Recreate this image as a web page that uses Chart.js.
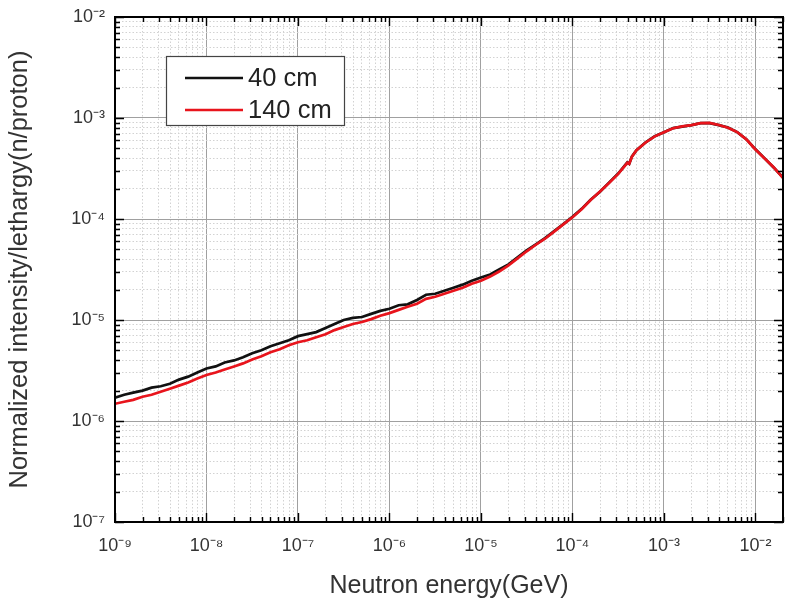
<!DOCTYPE html>
<html>
<head>
<meta charset="utf-8">
<script src="https://cdn.jsdelivr.net/npm/chart.js@4.4.1/dist/chart.umd.min.js"></script>
<style>
  html, body { margin: 0; padding: 0; background: #ffffff; }
  #wrap { width: 788px; height: 606px; }
</style>
</head>
<body>
<div id="wrap"><canvas id="c" width="788" height="606"></canvas></div>
<script>
// ---- data ----
const seriesLabels = ['40 cm', '140 cm'];
const xTitle = 'Neutron energy(GeV)';
const yTitle = 'Normalized intensity/lethargy(n/proton)';

const xEnergy = [
  1.00e-9, 1.26e-9, 1.58e-9, 2.00e-9, 2.51e-9, 3.16e-9, 3.98e-9, 5.01e-9, 6.31e-9, 7.94e-9,
  1.00e-8, 1.26e-8, 1.58e-8, 2.00e-8, 2.51e-8, 3.16e-8, 3.98e-8, 5.01e-8, 6.31e-8, 7.94e-8,
  1.00e-7, 1.26e-7, 1.58e-7, 2.00e-7, 2.51e-7, 3.16e-7, 3.98e-7, 5.01e-7, 6.31e-7, 7.94e-7,
  1.00e-6, 1.26e-6, 1.58e-6, 2.00e-6, 2.51e-6, 3.16e-6, 3.98e-6, 5.01e-6, 6.31e-6, 7.94e-6,
  1.00e-5, 1.26e-5, 1.58e-5, 2.00e-5, 2.51e-5, 3.16e-5, 3.98e-5, 5.01e-5, 6.31e-5, 7.94e-5,
  1.00e-4, 1.26e-4, 1.58e-4, 2.00e-4, 2.51e-4, 3.16e-4, 3.98e-4, 4.17e-4, 4.47e-4, 5.01e-4, 6.31e-4, 7.94e-4,
  1.00e-3, 1.26e-3, 1.58e-3, 2.00e-3, 2.51e-3, 3.16e-3, 3.98e-3, 5.01e-3, 6.31e-3, 7.94e-3,
  1.00e-2, 1.26e-2, 1.58e-2, 2.00e-2
];

const flux40cm = [
  1.70e-6, 1.82e-6, 1.91e-6, 2.00e-6, 2.14e-6, 2.21e-6, 2.34e-6, 2.57e-6, 2.75e-6, 3.02e-6,
  3.31e-6, 3.47e-6, 3.80e-6, 3.98e-6, 4.27e-6, 4.68e-6, 5.01e-6, 5.50e-6, 5.89e-6, 6.31e-6,
  6.92e-6, 7.24e-6, 7.59e-6, 8.32e-6, 9.12e-6, 1.00e-5, 1.05e-5, 1.07e-5, 1.15e-5, 1.23e-5,
  1.29e-5, 1.40e-5, 1.43e-5, 1.58e-5, 1.78e-5, 1.82e-5, 1.95e-5, 2.09e-5, 2.24e-5, 2.45e-5,
  2.63e-5, 2.82e-5, 3.16e-5, 3.55e-5, 4.17e-5, 4.90e-5, 5.62e-5, 6.46e-5, 7.59e-5, 8.91e-5,
  1.05e-4, 1.26e-4, 1.55e-4, 1.86e-4, 2.29e-4, 2.82e-4, 3.63e-4, 3.52e-4, 4.17e-4, 4.79e-4, 5.75e-4, 6.61e-4,
  7.24e-4, 7.94e-4, 8.22e-4, 8.51e-4, 8.91e-4, 8.91e-4, 8.51e-4, 8.04e-4, 7.24e-4, 6.17e-4,
  4.90e-4, 3.98e-4, 3.24e-4, 2.57e-4
];

const flux140cm = [
  1.48e-6, 1.55e-6, 1.62e-6, 1.74e-6, 1.82e-6, 1.95e-6, 2.09e-6, 2.24e-6, 2.40e-6, 2.63e-6,
  2.85e-6, 3.02e-6, 3.24e-6, 3.47e-6, 3.72e-6, 4.07e-6, 4.37e-6, 4.79e-6, 5.13e-6, 5.62e-6,
  6.03e-6, 6.31e-6, 6.76e-6, 7.24e-6, 7.94e-6, 8.51e-6, 9.12e-6, 9.55e-6, 1.02e-5, 1.10e-5,
  1.17e-5, 1.26e-5, 1.35e-5, 1.45e-5, 1.62e-5, 1.70e-5, 1.82e-5, 1.95e-5, 2.09e-5, 2.29e-5,
  2.45e-5, 2.69e-5, 3.02e-5, 3.47e-5, 4.07e-5, 4.79e-5, 5.56e-5, 6.38e-5, 7.50e-5, 8.85e-5,
  1.04e-4, 1.25e-4, 1.54e-4, 1.87e-4, 2.27e-4, 2.80e-4, 3.60e-4, 3.52e-4, 4.15e-4, 4.80e-4, 5.72e-4, 6.58e-4,
  7.22e-4, 7.92e-4, 8.25e-4, 8.49e-4, 8.88e-4, 8.93e-4, 8.53e-4, 8.01e-4, 7.26e-4, 6.15e-4,
  4.88e-4, 3.97e-4, 3.25e-4, 2.55e-4
];

const xTickValues = [1e-9, 1e-8, 1e-7, 1e-6, 1e-5, 1e-4, 1e-3, 1e-2];
const xTickLabels = ['10\u207B\u2079', '10\u207B\u2078', '10\u207B\u2077', '10\u207B\u2076', '10\u207B\u2075', '10\u207B\u2074', '10\u207B\u00B3', '10\u207B\u00B2'];
const yTickValues = [1e-7, 1e-6, 1e-5, 1e-4, 1e-3, 1e-2];
const yTickLabels = ['10\u207B\u2077', '10\u207B\u2076', '10\u207B\u2075', '10\u207B\u2074', '10\u207B\u00B3', '10\u207B\u00B2'];

const xRange = [1e-9, 2e-2];
const yRange = [1e-7, 1e-2];

// ---- helpers ----
const FONT = "'Liberation Sans', Arial, Helvetica, sans-serif";
function isDecade(v) {
  const l = Math.log10(v);
  return Math.abs(l - Math.round(l)) < 1e-6;
}
function buildLogTicks(decades, min, max) {
  const out = [];
  decades.forEach(d => {
    for (let m = 1; m <= 9; m++) {
      const v = m * d;
      if (v >= min * (1 - 1e-9) && v <= max * (1 + 1e-9)) out.push({ value: v, major: m === 1 });
    }
  });
  return out;
}
function labelFor(values, labels) {
  return function (v) {
    const i = values.findIndex(t => Math.abs(Math.log10(t) - Math.log10(v)) < 1e-6);
    return i >= 0 ? labels[i] : '';
  };
}

// frame + inward ticks
const frameTicks = {
  id: 'frameTicks',
  afterDatasetsDraw(chart) {
    const { ctx, chartArea: a, scales: { x, y } } = chart;
    ctx.save();
    ctx.strokeStyle = '#000';
    ctx.lineWidth = 1.4;
    ctx.beginPath();
    x.ticks.forEach(t => {
      const px = Math.round(x.getPixelForValue(t.value)) + 0.5;
      const len = isDecade(t.value) ? 9 : 5;
      ctx.moveTo(px, a.bottom); ctx.lineTo(px, a.bottom - len);
      ctx.moveTo(px, a.top); ctx.lineTo(px, a.top + len);
    });
    y.ticks.forEach(t => {
      const py = Math.round(y.getPixelForValue(t.value)) + 0.5;
      const len = isDecade(t.value) ? 9 : 5;
      ctx.moveTo(a.left, py); ctx.lineTo(a.left + len, py);
      ctx.moveTo(a.right, py); ctx.lineTo(a.right - len, py);
    });
    ctx.stroke();
    ctx.lineWidth = 2;
    ctx.strokeRect(a.left, a.top, a.right - a.left, a.bottom - a.top);
    ctx.restore();
  }
};

// boxed legend inside the plot
const boxLegend = {
  id: 'boxLegend',
  afterDraw(chart) {
    const { ctx } = chart;
    const bx = 166, by = 56, bw = 178, bh = 69;
    ctx.save();
    ctx.fillStyle = '#fff';
    ctx.fillRect(bx, by, bw, bh);
    ctx.strokeStyle = '#444';
    ctx.lineWidth = 1.2;
    ctx.strokeRect(bx + 0.5, by + 0.5, bw, bh);
    chart.data.datasets.forEach((ds, i) => {
      const ly = by + 22 + i * 32;
      ctx.strokeStyle = ds.borderColor;
      ctx.lineWidth = 2.5;
      ctx.beginPath();
      ctx.moveTo(bx + 19, ly); ctx.lineTo(bx + 77, ly);
      ctx.stroke();
      ctx.fillStyle = '#222';
      ctx.font = '25.5px ' + FONT;
      ctx.textBaseline = 'middle';
      ctx.textAlign = 'left';
      ctx.fillText(ds.label, bx + 82, ly + 1);
    });
    ctx.restore();
  }
};

const gridColor = c => (c.tick && c.tick.major) ? '#a0a0a0' : '#d2d2d2';
const gridDash = c => (c.tick && !c.tick.major) ? [1.5, 2] : [];

new Chart(document.getElementById('c'), {
  type: 'line',
  data: {
    datasets: [
      {
        label: seriesLabels[0],
        data: xEnergy.map((x, i) => ({ x: x, y: flux40cm[i] })),
        borderColor: '#111111',
        borderWidth: 2.7,
        pointRadius: 0,
        tension: 0,
        order: 2
      },
      {
        label: seriesLabels[1],
        data: xEnergy.map((x, i) => ({ x: x, y: flux140cm[i] })),
        borderColor: '#e8141c',
        borderWidth: 2.7,
        pointRadius: 0,
        tension: 0,
        order: 1
      }
    ]
  },
  options: {
    responsive: false,
    animation: false,
    devicePixelRatio: 1,
    layout: { padding: { left: 0, right: 5, top: 17, bottom: 0 } },
    plugins: {
      legend: { display: false },
      tooltip: { enabled: false }
    },
    scales: {
      x: {
        type: 'logarithmic',
        min: xRange[0],
        max: xRange[1],
        afterBuildTicks: s => { s.ticks = buildLogTicks(xTickValues, xRange[0], xRange[1]); },
        afterFit: s => { s.height = 84; s.paddingLeft = 0; s.paddingRight = 0; },
        grid: { color: gridColor, lineWidth: 1, drawTicks: false },
        border: { display: false, dash: gridDash },
        ticks: {
          autoSkip: false,
          maxRotation: 0,
          padding: 13,
          color: '#333',
          font: { family: FONT, size: 18 },
          callback: labelFor(xTickValues, xTickLabels)
        },
        title: {
          display: true,
          text: xTitle,
          color: '#333',
          font: { family: FONT, size: 25 },
          padding: { top: 0, bottom: 5 }
        }
      },
      y: {
        type: 'logarithmic',
        min: yRange[0],
        max: yRange[1],
        afterBuildTicks: s => { s.ticks = buildLogTicks(yTickValues, yRange[0], yRange[1]); },
        afterFit: s => { s.width = 115; s.paddingTop = 0; s.paddingBottom = 0; },
        grid: { color: gridColor, lineWidth: 1, drawTicks: false },
        border: { display: false, dash: gridDash },
        ticks: {
          autoSkip: false,
          padding: 10,
          color: '#333',
          font: { family: FONT, size: 18 },
          callback: labelFor(yTickValues, yTickLabels)
        },
        title: {
          display: true,
          text: yTitle,
          color: '#333',
          font: { family: FONT, size: 25.5 },
          padding: { top: 5, bottom: 0 }
        }
      }
    }
  },
  plugins: [frameTicks, boxLegend]
});
</script>
</body>
</html>
